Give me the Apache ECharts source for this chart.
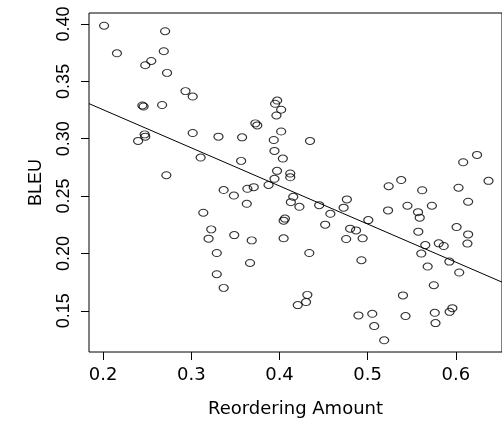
<!DOCTYPE html>
<html>
<head>
<meta charset="utf-8">
<script src="https://cdn.jsdelivr.net/npm/echarts@6/dist/echarts.min.js"></script>
<style>
html,body{margin:0;padding:0;background:#fff;}
#chart{width:502px;height:423px;}
</style>
</head>
<body>
<div id="chart"></div>
<script>
var reorderAmount = [0.2011,0.2157,0.2703,0.2688,0.2546,0.2478,0.2725,0.2934,0.3016,0.2445,0.2459,0.2669,0.2471,0.2478,0.2397,0.3016,0.3308,0.3576,0.3106,0.3565,0.2717,0.3726,0.3748,0.3974,0.3950,0.4019,0.3965,0.4019,0.3935,0.3943,0.4038,0.3972,0.3943,0.3876,0.3367,0.3483,0.3636,0.3708,0.4122,0.4122,0.4346,0.5238,0.5380,0.5618,0.6083,0.6240,0.6030,0.6370,0.4156,0.4764,0.6139,0.3136,0.3629,0.3226,0.3196,0.3487,0.3685,0.3289,0.3666,0.3289,0.3367,0.4129,0.4062,0.4047,0.4047,0.4226,0.4338,0.4450,0.4577,0.4518,0.4727,0.4801,0.4868,0.4756,0.4943,0.5007,0.4929,0.4316,0.4301,0.4207,0.5231,0.5451,0.5571,0.5590,0.5574,0.5653,0.5608,0.5728,0.5806,0.5862,0.5680,0.5926,0.6008,0.6139,0.6131,0.6038,0.5750,0.5400,0.5429,0.4895,0.5052,0.5074,0.5187,0.5761,0.5769,0.5929,0.5960];
var bleu = [0.3985,0.3745,0.3937,0.3763,0.3678,0.3641,0.3574,0.3415,0.3368,0.3290,0.3281,0.3294,0.3038,0.3018,0.2981,0.3050,0.3018,0.3012,0.2836,0.2807,0.2682,0.3134,0.3116,0.3333,0.3305,0.3253,0.3203,0.3063,0.2989,0.2894,0.2827,0.2720,0.2651,0.2597,0.2553,0.2505,0.2564,0.2578,0.2697,0.2664,0.2981,0.2586,0.2640,0.2551,0.2795,0.2859,0.2573,0.2633,0.2494,0.2471,0.2451,0.2355,0.2433,0.2210,0.2129,0.2160,0.2114,0.2004,0.1917,0.1819,0.1700,0.2447,0.2304,0.2286,0.2132,0.2407,0.2004,0.2421,0.2346,0.2251,0.2399,0.2216,0.2201,0.2126,0.2132,0.2291,0.1941,0.1639,0.1576,0.1550,0.2375,0.2416,0.2360,0.2312,0.2190,0.2073,0.1999,0.2416,0.2088,0.2065,0.1886,0.1929,0.2230,0.2166,0.2086,0.1834,0.1723,0.1634,0.1454,0.1460,0.1474,0.1367,0.1243,0.1483,0.1393,0.1491,0.1523];
var fitX = [0.184, 0.6523];
var fitY = [0.3306, 0.1750];
var xTicks = [0.2, 0.3, 0.4, 0.5, 0.6];
var yTicks = [0.15, 0.20, 0.25, 0.30, 0.35, 0.40];

var points = reorderAmount.map(function (x, i) { return [x, bleu[i]]; });
var fitLine = fitX.map(function (x, i) { return [x, fitY[i]]; });

var chart = echarts.init(document.getElementById('chart'), null, {renderer: 'canvas'});
chart.setOption({
  backgroundColor: '#fff',
  animation: false,
  grid: {left: 89, top: 13, width: 418, height: 340, show: true, borderColor: '#000', borderWidth: 1, backgroundColor: 'transparent'},
  xAxis: {
    type: 'value', min: 0.184, max: 0.6523,
    name: 'Reordering Amount', nameLocation: 'middle', nameGap: 48,
    nameTextStyle: {fontFamily: 'DejaVu Sans', fontSize: 18, color: '#000'},
    axisLine: {show: false},
    splitLine: {show: false},
    axisTick: {show: true, length: 8, lineStyle: {color: '#000', width: 1}, customValues: xTicks},
    axisLabel: {customValues: xTicks, margin: 14, fontFamily: 'DejaVu Sans', fontSize: 18, color: '#000',
      formatter: function (v) { return v.toFixed(1); }}
  },
  yAxis: {
    type: 'value', min: 0.1141, max: 0.4096,
    name: 'BLEU', nameLocation: 'middle', nameGap: 44,
    nameTextStyle: {fontFamily: 'Liberation Sans', fontSize: 18, color: '#000'},
    axisLine: {show: false},
    splitLine: {show: false},
    axisTick: {show: true, length: 8, lineStyle: {color: '#000', width: 1}, customValues: yTicks},
    axisLabel: {customValues: yTicks, rotate: 90, margin: 16, fontFamily: 'Liberation Sans', fontSize: 18, color: '#000',
      formatter: function (v) { return v.toFixed(2); }}
  },
  series: [
    {
      type: 'scatter', data: points, symbol: 'circle', symbolSize: [9, 7],
      itemStyle: {color: 'rgba(0,0,0,0)', borderColor: '#000', borderWidth: 1.1},
      emphasis: {disabled: true}
    },
    {
      type: 'line', data: fitLine, symbol: 'none', clip: true,
      lineStyle: {color: '#000', width: 1}
    }
  ]
});
</script>
</body>
</html>
